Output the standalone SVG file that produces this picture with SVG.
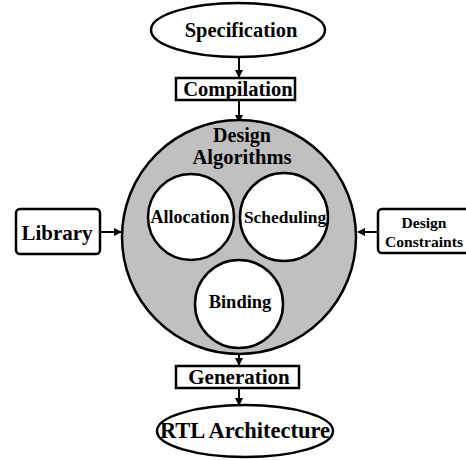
<svg xmlns="http://www.w3.org/2000/svg" width="466" height="460" viewBox="0 0 466 460">
<style>
text{font-family:"Liberation Serif","Times New Roman",serif;font-weight:bold;fill:#000;text-anchor:middle}
.s{fill:#fff;stroke:#000;stroke-width:2.5}
.l{stroke:#000;stroke-width:2;fill:none}
</style>
<defs><marker id="a" markerWidth="8" markerHeight="8" refX="7" refY="4" orient="auto" markerUnits="userSpaceOnUse"><path d="M0,0L8,4L0,8z" fill="#000"/></marker></defs>
<rect width="466" height="460" fill="#fff"/>
<g id="connectors">
<line class="l" x1="239" y1="57" x2="239" y2="77" marker-end="url(#a)"/>
<line class="l" x1="239" y1="100" x2="239" y2="122" marker-end="url(#a)"/>
<line class="l" x1="100" y1="232" x2="121" y2="232" marker-end="url(#a)"/>
<line class="l" x1="378" y1="232" x2="358" y2="232" marker-end="url(#a)"/>
<line class="l" x1="239" y1="350" x2="239" y2="365" marker-end="url(#a)"/>
<line class="l" x1="239" y1="388" x2="239" y2="405" marker-end="url(#a)"/>
</g>
<g id="specification"><ellipse class="s" cx="238" cy="30" rx="87" ry="27"/><text x="241" y="37" font-size="20.5">Specification</text></g>
<g id="compilation"><rect class="s" x="176" y="78" width="119" height="22"/><text x="238" y="96" font-size="20.5">Compilation</text></g>
<g id="design-algorithms"><circle cx="239" cy="237" r="117" fill="#c0c0c0" stroke="#000" stroke-width="2.5"/><text x="242" y="142" font-size="20">Design</text><text x="242" y="164" font-size="20.5">Algorithms</text></g>
<g id="allocation"><circle class="s" cx="191" cy="217" r="43"/><text x="190" y="223" font-size="18">Allocation</text></g>
<g id="scheduling"><circle class="s" cx="284" cy="217" r="44"/><text x="285" y="223" font-size="17.4">Scheduling</text></g>
<g id="binding"><circle class="s" cx="239" cy="304" r="44"/><text x="240" y="308" font-size="18.5">Binding</text></g>
<g id="library"><rect class="s" x="16" y="209" width="84" height="45" rx="4"/><text x="57" y="240" font-size="21">Library</text></g>
<g id="design-constraints"><rect class="s" x="378" y="209" width="96" height="44" rx="4"/><text x="424" y="228" font-size="15.6">Design</text><text x="424" y="247" font-size="15.6">Constraints</text></g>
<g id="generation"><rect class="s" x="176" y="366" width="123" height="22"/><text x="239" y="384" font-size="21">Generation</text></g>
<g id="rtl"><ellipse class="s" cx="245" cy="431" rx="88" ry="26"/><text x="245" y="438" font-size="22.5">RTL Architecture</text></g>
</svg>
